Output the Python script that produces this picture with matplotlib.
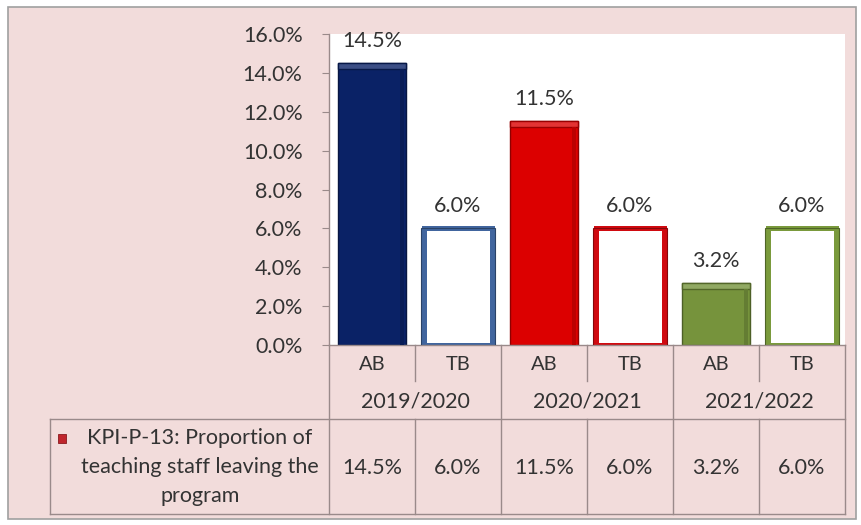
import matplotlib.pyplot as plt
import matplotlib.transforms as mtransforms
from matplotlib.patches import Rectangle
from matplotlib.colors import to_rgb

# KPI values per academic year: actual (AB) and target (TB)
seasons = ["2019/2020", "2020/2021", "2021/2022"]
kinds = ["AB", "TB"]
values = [14.5, 6.0, 11.5, 6.0, 3.2, 6.0]
kpi_label = "KPI-P-13: Proportion of\nteaching staff leaving the\nprogram"

season_colors = ["#0a2266", "#dc0000", "#76933c"]
target_edges = ["#41659e", "#d00a10", "#7a9a3c"]

plt.rcParams["font.family"] = ["Lato", "DejaVu Sans"]
txt_color = "#333333"
line_color = "#9a8a8a"
fs = 15.5

W, H = 861, 525
fig = plt.figure(figsize=(W / 100, H / 100), dpi=100, facecolor="white")

# pink chart area with a thin grey frame
fig.patches.append(Rectangle((8 / W, 6 / H), 848 / W, 512 / H, transform=fig.transFigure,
                             facecolor="#f2dcdb", edgecolor="#a0a0a0", linewidth=1.2, zorder=-5))

# plot area in pixel terms: x 329..845, y 34..345 (from the top)
ax = fig.add_axes([329 / W, (H - 345) / H, 516 / W, 311 / H])
ax.set_facecolor("white")
ax.set_xlim(-0.5, 5.5)
ax.set_ylim(0, 16)
ax.set_yticks(range(0, 17, 2))
ax.set_yticklabels([f"{v:.1f}%" for v in range(0, 17, 2)], fontsize=fs, color=txt_color)
ax.tick_params(axis="y", direction="out", length=5, color=line_color, pad=14)
ax.set_xticks([])
for s in ["top", "right"]:
    ax.spines[s].set_visible(False)
for s in ["left", "bottom"]:
    ax.spines[s].set_color(line_color)
    ax.spines[s].set_linewidth(1)


def shade(c, f):
    r, g, b = to_rgb(c)
    if f >= 0:
        return (r + (1 - r) * f, g + (1 - g) * f, b + (1 - b) * f)
    return (r * (1 + f), g * (1 + f), b * (1 + f))


bevel = 0.3
for i, v in enumerate(values):
    g = i // 2
    if kinds[i % 2] == "AB":
        col = season_colors[g]
        ax.bar(i, v, width=0.8, color=col, edgecolor=shade(col, -0.35), linewidth=1, zorder=2)
        ax.bar(i, bevel, bottom=v - bevel, width=0.8, color=shade(col, 0.2),
               edgecolor=shade(col, -0.3), linewidth=1, zorder=3)
        ax.bar(i + 0.35, v - bevel, width=0.04, color=shade(col, -0.15), linewidth=0, zorder=3)
    else:
        col = target_edges[g]
        ax.bar(i, v, width=0.8, color="white", edgecolor=col, linewidth=3.6, zorder=2)
        ax.bar(i, v, width=0.86, color="none", edgecolor=shade(col, -0.35), linewidth=0.8, zorder=3)
    ax.annotate(f"{v:.1f}%", (i, v), xytext=(0, 16), textcoords="offset points",
                ha="center", va="center", fontsize=fs, color=txt_color)

# data table below the plot area
tr = mtransforms.blended_transform_factory(ax.transData, ax.transAxes)


def yf(py):
    return (345 - py) / 311


x_left = -0.5 - (329 - 50) / 86
x_right = 5.5
lk = dict(color=line_color, linewidth=1, transform=tr, clip_on=False)

# horizontal rules
ax.plot([x_left, x_right], [yf(419), yf(419)], **lk)
ax.plot([x_left, x_right], [yf(514), yf(514)], **lk)
# vertical rules
ax.plot([-0.5, -0.5], [yf(345), yf(514)], **lk)
ax.plot([x_left, x_left], [yf(419), yf(514)], **lk)
for x in [1.5, 3.5, 5.5]:
    ax.plot([x, x], [yf(345), yf(514)], **lk)
for x in [0.5, 2.5, 4.5]:
    ax.plot([x, x], [yf(345), yf(381)], **lk)
    ax.plot([x, x], [yf(419), yf(514)], **lk)

for i, v in enumerate(values):
    ax.text(i, yf(364), kinds[i % 2], ha="center", va="center", fontsize=fs - 1,
            color=txt_color, transform=tr)
    ax.text(i, yf(468), f"{v:.1f}%", ha="center", va="center", fontsize=fs,
            color=txt_color, transform=tr)
for g, s in enumerate(seasons):
    ax.text(2 * g + 0.5, yf(401), s, ha="center", va="center", fontsize=fs,
            color=txt_color, transform=tr)

# legend key and series name
x_key = -0.5 - (329 - 62) / 86
ax.add_patch(Rectangle((x_key - 0.05, yf(443)), 0.1, 9 / 311, transform=tr, clip_on=False,
                       facecolor="#c0262d", edgecolor="#8a1a1e", linewidth=0.6))
x_mid = -0.5 - (329 - 200) / 86
ax.text(x_mid, yf(467), kpi_label, ha="center", va="center", fontsize=fs,
        color=txt_color, transform=tr, linespacing=1.55)

fig.savefig("out.png", dpi=100, facecolor=fig.get_facecolor())
